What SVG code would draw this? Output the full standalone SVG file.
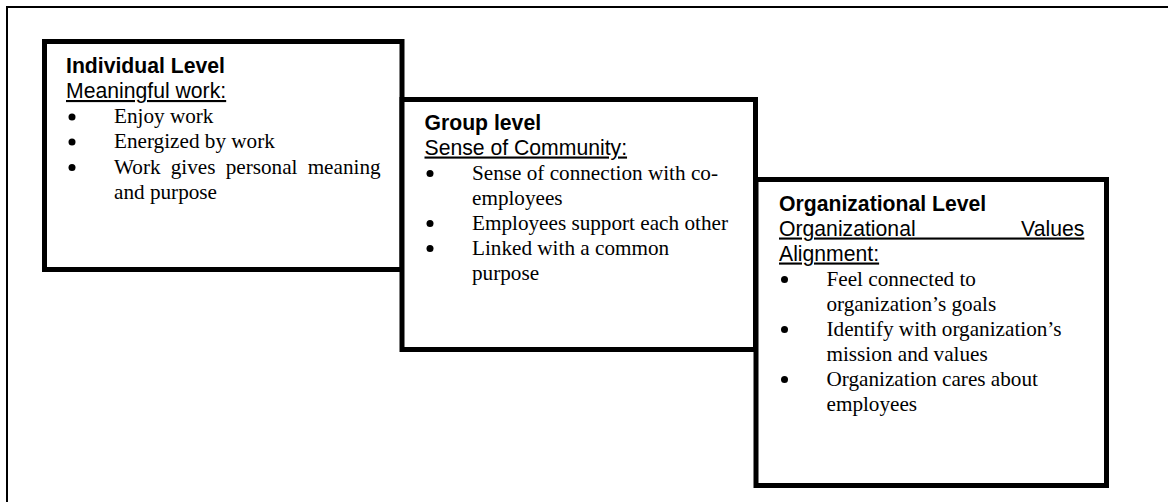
<svg xmlns="http://www.w3.org/2000/svg" width="1168" height="502" viewBox="0 0 1168 502">
<style>
.frame{fill:none;stroke:#000;stroke-width:2}
.box{fill:#fff;stroke:#000;stroke-width:5}
.h{font-family:"Liberation Sans",Arial,sans-serif;font-size:21.2px;font-weight:bold;fill:#000}
.s{font-family:"Liberation Sans",Arial,sans-serif;font-size:21.2px;fill:#000;text-decoration:underline}
.t{font-family:"Liberation Serif","Times New Roman",serif;font-size:21.2px;fill:#000}
.dot{fill:#000}
</style>
<defs>
<circle id="bullet" r="3.5" class="dot"/>
</defs>
<rect x="0" y="0" width="1168" height="502" fill="#fff"/>
<rect class="frame" x="7" y="7" width="1220" height="560"/>
<g id="connectors"></g>
<g id="individual-level">
<rect class="box" x="44.5" y="41.5" width="357.5" height="228"/>
<text class="h" x="66" y="73">Individual Level</text>
<text class="s" x="66" y="98">Meaningful work:</text>
<use href="#bullet" x="72" y="117"/>
<text class="t" x="114" y="123">Enjoy work</text>
<use href="#bullet" x="72" y="142"/>
<text class="t" x="114" y="148">Energized by work</text>
<use href="#bullet" x="72" y="167.5"/>
<text class="t" x="114" y="173.5" word-spacing="4.9">Work gives personal meaning</text>
<text class="t" x="114" y="198.5">and purpose</text>
</g>
<g id="group-level">
<rect class="box" x="402" y="99.5" width="353.5" height="250"/>
<text class="h" x="424.5" y="129.5">Group level</text>
<text class="s" x="424.5" y="154.5">Sense of Community:</text>
<use href="#bullet" x="430" y="173.5"/>
<text class="t" x="472" y="179.5">Sense of connection with co-</text>
<text class="t" x="472" y="204.5">employees</text>
<use href="#bullet" x="430" y="223.5"/>
<text class="t" x="472" y="229.5">Employees support each other</text>
<use href="#bullet" x="430" y="248.5"/>
<text class="t" x="472" y="254.5">Linked with a common</text>
<text class="t" x="472" y="279.5">purpose</text>
</g>
<g id="organizational-level">
<rect class="box" x="756" y="179.5" width="350.5" height="306"/>
<text class="h" x="779" y="210.5">Organizational Level</text>
<text class="s" x="779" y="235.5" word-spacing="99.6">Organizational Values</text>
<text class="s" x="779" y="260.5">Alignment:</text>
<use href="#bullet" x="784.5" y="279.5"/>
<text class="t" x="826.5" y="285.5">Feel connected to</text>
<text class="t" x="826.5" y="310.5">organization’s goals</text>
<use href="#bullet" x="784.5" y="329.5"/>
<text class="t" x="826.5" y="335.5">Identify with organization’s</text>
<text class="t" x="826.5" y="360.5">mission and values</text>
<use href="#bullet" x="784.5" y="379.5"/>
<text class="t" x="826.5" y="385.5">Organization cares about</text>
<text class="t" x="826.5" y="410.5">employees</text>
</g>
</svg>
